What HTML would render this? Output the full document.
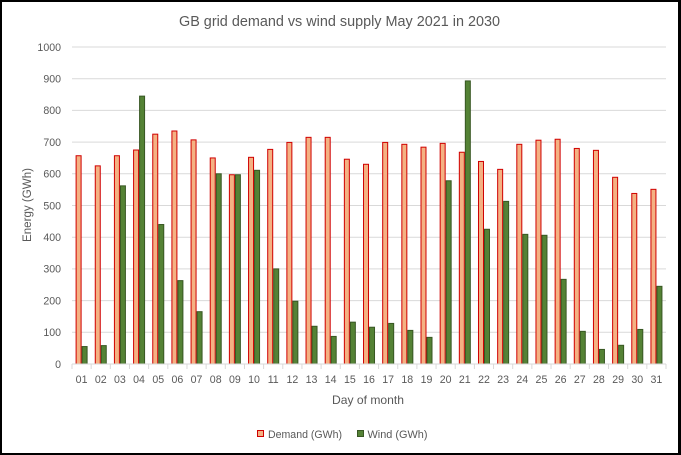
<!DOCTYPE html>
<html><head><meta charset="utf-8"><style>
html,body{margin:0;padding:0;background:#fff;}
svg{display:block;}
text{font-family:"Liberation Sans",Arial,sans-serif;fill:#595959;}
</style></head><body>
<svg width="681" height="455" viewBox="0 0 681 455" xmlns="http://www.w3.org/2000/svg">
<rect x="0" y="0" width="681" height="455" fill="#000"/>
<rect x="2" y="2" width="676" height="451" fill="#fff"/>
<text x="339.5" y="26" font-size="14.5" text-anchor="middle" textLength="321" lengthAdjust="spacingAndGlyphs">GB grid demand vs wind supply May 2021 in 2030</text>
<g stroke="#D9D9D9" stroke-width="1">
<line x1="72" x2="666" y1="332.3" y2="332.3"/>
<line x1="72" x2="666" y1="300.6" y2="300.6"/>
<line x1="72" x2="666" y1="268.9" y2="268.9"/>
<line x1="72" x2="666" y1="237.2" y2="237.2"/>
<line x1="72" x2="666" y1="205.5" y2="205.5"/>
<line x1="72" x2="666" y1="173.8" y2="173.8"/>
<line x1="72" x2="666" y1="142.1" y2="142.1"/>
<line x1="72" x2="666" y1="110.4" y2="110.4"/>
<line x1="72" x2="666" y1="78.7" y2="78.7"/>
<line x1="72" x2="666" y1="47" y2="47"/>
</g>
<g font-size="10.6" text-anchor="end">
<text x="61" y="368">0</text>
<text x="61" y="336.1">100</text>
<text x="61" y="304.4">200</text>
<text x="61" y="272.7">300</text>
<text x="61" y="241">400</text>
<text x="61" y="209.3">500</text>
<text x="61" y="177.6">600</text>
<text x="61" y="145.9">700</text>
<text x="61" y="114.2">800</text>
<text x="61" y="82.5">900</text>
<text x="61" y="50.8">1000</text>
</g>
<text transform="translate(31,205) rotate(-90)" font-size="11.5" text-anchor="middle" textLength="74" lengthAdjust="spacingAndGlyphs">Energy (GWh)</text>
<!-- Demand bars -->
<g fill="#F4B183" stroke="#D00000" stroke-width="1">
<rect x="76.1" y="155.73" width="5" height="208.27"/>
<rect x="95.26" y="165.87" width="5" height="198.13"/>
<rect x="114.42" y="155.73" width="5" height="208.27"/>
<rect x="133.58" y="150.02" width="5" height="213.98"/>
<rect x="152.75" y="134.17" width="5" height="229.83"/>
<rect x="171.91" y="131" width="5" height="233"/>
<rect x="191.07" y="139.88" width="5" height="224.12"/>
<rect x="210.23" y="157.95" width="5" height="206.05"/>
<rect x="229.39" y="174.75" width="5" height="189.25"/>
<rect x="248.55" y="157.32" width="5" height="206.68"/>
<rect x="267.71" y="149.39" width="5" height="214.61"/>
<rect x="286.87" y="142.42" width="5" height="221.58"/>
<rect x="306.04" y="137.34" width="5" height="226.66"/>
<rect x="325.2" y="137.34" width="5" height="226.66"/>
<rect x="344.36" y="159.22" width="5" height="204.78"/>
<rect x="363.52" y="164.29" width="5" height="199.71"/>
<rect x="382.68" y="142.42" width="5" height="221.58"/>
<rect x="401.84" y="144.32" width="5" height="219.68"/>
<rect x="421" y="147.17" width="5" height="216.83"/>
<rect x="440.16" y="143.37" width="5" height="220.63"/>
<rect x="459.33" y="152.24" width="5" height="211.76"/>
<rect x="478.49" y="161.44" width="5" height="202.56"/>
<rect x="497.65" y="169.36" width="5" height="194.64"/>
<rect x="516.81" y="144.32" width="5" height="219.68"/>
<rect x="535.97" y="140.2" width="5" height="223.8"/>
<rect x="555.13" y="139.25" width="5" height="224.75"/>
<rect x="574.29" y="148.44" width="5" height="215.56"/>
<rect x="593.45" y="150.34" width="5" height="213.66"/>
<rect x="612.62" y="177.29" width="5" height="186.71"/>
<rect x="631.78" y="193.45" width="5" height="170.55"/>
<rect x="650.94" y="189.33" width="5" height="174.67"/>
</g>
<!-- Wind bars -->
<g fill="#548235" stroke="#385723" stroke-width="1">
<rect x="82.1" y="346.56" width="5" height="17.44"/>
<rect x="101.26" y="345.61" width="5" height="18.39"/>
<rect x="120.42" y="185.85" width="5" height="178.15"/>
<rect x="139.58" y="96.13" width="5" height="267.87"/>
<rect x="158.75" y="224.52" width="5" height="139.48"/>
<rect x="177.91" y="280.63" width="5" height="83.37"/>
<rect x="197.07" y="311.69" width="5" height="52.31"/>
<rect x="216.23" y="173.8" width="5" height="190.2"/>
<rect x="235.39" y="174.75" width="5" height="189.25"/>
<rect x="254.55" y="170.31" width="5" height="193.69"/>
<rect x="273.71" y="268.9" width="5" height="95.1"/>
<rect x="292.87" y="301.23" width="5" height="62.77"/>
<rect x="312.04" y="326.28" width="5" height="37.72"/>
<rect x="331.2" y="336.42" width="5" height="27.58"/>
<rect x="350.36" y="322.16" width="5" height="41.84"/>
<rect x="369.52" y="327.23" width="5" height="36.77"/>
<rect x="388.68" y="323.42" width="5" height="40.58"/>
<rect x="407.84" y="330.4" width="5" height="33.6"/>
<rect x="427" y="337.37" width="5" height="26.63"/>
<rect x="446.16" y="180.77" width="5" height="183.23"/>
<rect x="465.33" y="80.92" width="5" height="283.08"/>
<rect x="484.49" y="229.27" width="5" height="134.73"/>
<rect x="503.65" y="201.38" width="5" height="162.62"/>
<rect x="522.81" y="234.35" width="5" height="129.65"/>
<rect x="541.97" y="235.3" width="5" height="128.7"/>
<rect x="561.13" y="279.36" width="5" height="84.64"/>
<rect x="580.29" y="331.35" width="5" height="32.65"/>
<rect x="599.45" y="349.42" width="5" height="14.58"/>
<rect x="618.62" y="345.3" width="5" height="18.7"/>
<rect x="637.78" y="329.45" width="5" height="34.55"/>
<rect x="656.94" y="286.33" width="5" height="77.67"/>
</g>
<!-- axis -->
<g stroke="#D9D9D9" stroke-width="1">
<line x1="72" x2="666" y1="364" y2="364"/>
<line x1="72" x2="72" y1="364" y2="369"/>
<line x1="91.16" x2="91.16" y1="364" y2="369"/>
<line x1="110.32" x2="110.32" y1="364" y2="369"/>
<line x1="129.48" x2="129.48" y1="364" y2="369"/>
<line x1="148.65" x2="148.65" y1="364" y2="369"/>
<line x1="167.81" x2="167.81" y1="364" y2="369"/>
<line x1="186.97" x2="186.97" y1="364" y2="369"/>
<line x1="206.13" x2="206.13" y1="364" y2="369"/>
<line x1="225.29" x2="225.29" y1="364" y2="369"/>
<line x1="244.45" x2="244.45" y1="364" y2="369"/>
<line x1="263.61" x2="263.61" y1="364" y2="369"/>
<line x1="282.77" x2="282.77" y1="364" y2="369"/>
<line x1="301.94" x2="301.94" y1="364" y2="369"/>
<line x1="321.1" x2="321.1" y1="364" y2="369"/>
<line x1="340.26" x2="340.26" y1="364" y2="369"/>
<line x1="359.42" x2="359.42" y1="364" y2="369"/>
<line x1="378.58" x2="378.58" y1="364" y2="369"/>
<line x1="397.74" x2="397.74" y1="364" y2="369"/>
<line x1="416.9" x2="416.9" y1="364" y2="369"/>
<line x1="436.06" x2="436.06" y1="364" y2="369"/>
<line x1="455.23" x2="455.23" y1="364" y2="369"/>
<line x1="474.39" x2="474.39" y1="364" y2="369"/>
<line x1="493.55" x2="493.55" y1="364" y2="369"/>
<line x1="512.71" x2="512.71" y1="364" y2="369"/>
<line x1="531.87" x2="531.87" y1="364" y2="369"/>
<line x1="551.03" x2="551.03" y1="364" y2="369"/>
<line x1="570.19" x2="570.19" y1="364" y2="369"/>
<line x1="589.35" x2="589.35" y1="364" y2="369"/>
<line x1="608.52" x2="608.52" y1="364" y2="369"/>
<line x1="627.68" x2="627.68" y1="364" y2="369"/>
<line x1="646.84" x2="646.84" y1="364" y2="369"/>
<line x1="666" x2="666" y1="364" y2="369"/>
</g>
<g font-size="10.6" text-anchor="middle">
<text x="81.58" y="383">01</text>
<text x="100.74" y="383">02</text>
<text x="119.9" y="383">03</text>
<text x="139.06" y="383">04</text>
<text x="158.23" y="383">05</text>
<text x="177.39" y="383">06</text>
<text x="196.55" y="383">07</text>
<text x="215.71" y="383">08</text>
<text x="234.87" y="383">09</text>
<text x="254.03" y="383">10</text>
<text x="273.19" y="383">11</text>
<text x="292.35" y="383">12</text>
<text x="311.52" y="383">13</text>
<text x="330.68" y="383">14</text>
<text x="349.84" y="383">15</text>
<text x="369" y="383">16</text>
<text x="388.16" y="383">17</text>
<text x="407.32" y="383">18</text>
<text x="426.48" y="383">19</text>
<text x="445.64" y="383">20</text>
<text x="464.81" y="383">21</text>
<text x="483.97" y="383">22</text>
<text x="503.13" y="383">23</text>
<text x="522.29" y="383">24</text>
<text x="541.45" y="383">25</text>
<text x="560.61" y="383">26</text>
<text x="579.77" y="383">27</text>
<text x="598.93" y="383">28</text>
<text x="618.1" y="383">29</text>
<text x="637.26" y="383">30</text>
<text x="656.42" y="383">31</text>
</g>
<text x="368" y="404" font-size="12" text-anchor="middle" textLength="72" lengthAdjust="spacingAndGlyphs">Day of month</text>
<!-- legend -->
<rect x="257.5" y="430.5" width="6" height="6" fill="#F4B183" stroke="#D00000" stroke-width="1"/>
<text x="268" y="438" font-size="11" textLength="74" lengthAdjust="spacingAndGlyphs">Demand (GWh)</text>
<rect x="357.5" y="430.5" width="6" height="6" fill="#548235" stroke="#385723" stroke-width="1"/>
<text x="367.5" y="438" font-size="11" textLength="60" lengthAdjust="spacingAndGlyphs">Wind (GWh)</text>
</svg>
</body></html>
